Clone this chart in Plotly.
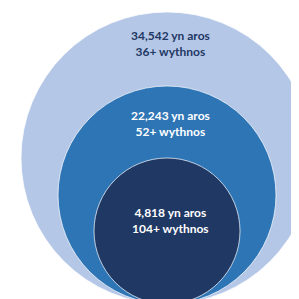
import plotly.graph_objects as go

# data
counts = ["34,542", "22,243", "4,818"]
weeks = ["36+", "52+", "104+"]
label_suffix = ["yn aros", "wythnos"]

# layout geometry (pixel space)
cx = 159
bottom = 296
radii = [146, 109, 73]
fills = ["#b4c7e7", "#2e75b6", "#203864"]
text_colors = ["#1f3864", "#ffffff", "#ffffff"]
text_y = [35, 115, 212]

fig = go.Figure()
shapes = []
for r, fc in zip(radii, fills):
    shapes.append(dict(type="circle", xref="x", yref="y",
                       x0=cx - r, x1=cx + r, y0=bottom - 2 * r, y1=bottom,
                       fillcolor=fc, line=dict(color="rgba(255,255,255,0.7)", width=1),
                       layer="below"))

annotations = []
for c, w, ty, tc in zip(counts, weeks, text_y, text_colors):
    annotations.append(dict(x=cx + 3, y=ty, xref="x", yref="y", showarrow=False,
                            text=f"<b>{c} {label_suffix[0]}<br>{w} {label_suffix[1]}</b>",
                            font=dict(family="Lato, Open Sans, sans-serif", size=12, color=tc),
                            align="center"))

fig.add_trace(go.Scatter(x=[0], y=[0], mode="markers", marker=dict(opacity=0),
                         hoverinfo="skip", showlegend=False))
fig.update_layout(width=299, height=299, margin=dict(l=0, r=0, t=0, b=0),
                  paper_bgcolor="white", plot_bgcolor="white",
                  shapes=shapes, annotations=annotations, showlegend=False,
                  xaxis=dict(range=[0, 299], visible=False, fixedrange=True),
                  yaxis=dict(range=[299, 0], visible=False, fixedrange=True))
fig.write_html("out.html", config={"displayModeBar": False})
